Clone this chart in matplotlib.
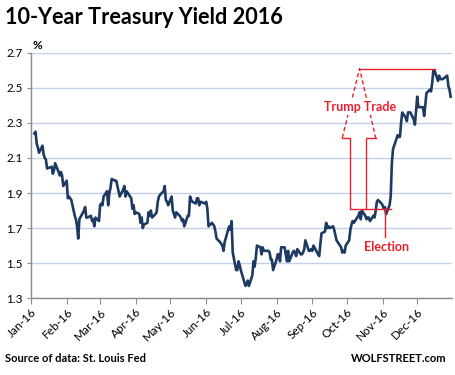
import pandas as pd
import matplotlib
matplotlib.use('Agg')
import matplotlib.pyplot as plt
import matplotlib.dates as mdates

# daily 10-year yields, 2016
jan = [2.24, 2.25, 2.18, 2.16, 2.13, 2.17, 2.12, 2.10, 2.09, 2.04, 2.05, 2.01, 2.03, 2.07,
       2.02, 2.00, 2.02, 2.00, 1.94]
feb = [1.97, 1.87, 1.88, 1.87, 1.86, 1.77, 1.75, 1.71, 1.64, 1.75, 1.80, 1.82, 1.76, 1.76,
       1.77, 1.74, 1.75, 1.71, 1.76, 1.74]
mar = [1.83, 1.84, 1.83, 1.88, 1.91, 1.83, 1.90, 1.93, 1.98, 1.97, 1.97, 1.94, 1.91, 1.88,
       1.92, 1.94, 1.88, 1.91, 1.87, 1.81, 1.83, 1.78]
apr = [1.79, 1.78, 1.73, 1.76, 1.70, 1.72, 1.73, 1.79, 1.77, 1.80, 1.76, 1.78, 1.79, 1.85,
       1.88, 1.89, 1.91, 1.94, 1.86, 1.85, 1.83]
may = [1.88, 1.80, 1.78, 1.76, 1.79, 1.77, 1.76, 1.74, 1.75, 1.71, 1.77, 1.77, 1.88, 1.86,
       1.85, 1.84, 1.87, 1.87, 1.83, 1.85, 1.84]
jun = [1.85, 1.81, 1.71, 1.73, 1.72, 1.71, 1.68, 1.64, 1.62, 1.61, 1.60, 1.57, 1.62, 1.69,
       1.71, 1.69, 1.74, 1.56, 1.46, 1.46, 1.51, 1.49]
jul = [1.46, 1.37, 1.38, 1.40, 1.37, 1.43, 1.51, 1.48, 1.53, 1.60, 1.59, 1.55, 1.59, 1.57,
       1.57, 1.57, 1.56, 1.52, 1.52, 1.46]
aug = [1.52, 1.55, 1.55, 1.51, 1.59, 1.59, 1.55, 1.51, 1.57, 1.51, 1.56, 1.57, 1.56, 1.54,
       1.58, 1.55, 1.55, 1.56, 1.58, 1.63, 1.57, 1.57, 1.58]
sep = [1.57, 1.60, 1.55, 1.54, 1.61, 1.67, 1.68, 1.73, 1.70, 1.71, 1.70, 1.71, 1.69, 1.66,
       1.63, 1.62, 1.59, 1.56, 1.57, 1.56, 1.60]
oct_ = [1.63, 1.69, 1.72, 1.74, 1.73, 1.77, 1.79, 1.75, 1.80, 1.77, 1.75, 1.76, 1.76, 1.74,
        1.77, 1.76, 1.80, 1.85, 1.86, 1.84]
nov = [1.83, 1.81, 1.82, 1.78, 1.83, 1.88, 2.07, 2.15, 2.23, 2.22, 2.22, 2.30, 2.36, 2.33,
       2.31, 2.36, 2.36, 2.32, 2.29, 2.37]
dec = [2.45, 2.39, 2.39, 2.39, 2.34, 2.40, 2.47, 2.49, 2.48, 2.53, 2.60, 2.60, 2.54, 2.57,
       2.55, 2.55, 2.55, 2.57, 2.51, 2.49, 2.45]

yields = jan + feb + mar + apr + may + jun + jul + aug + sep + oct_ + nov + dec
holidays = ['2016-01-18', '2016-02-15', '2016-03-25', '2016-05-30', '2016-07-04',
            '2016-09-05', '2016-10-10', '2016-11-11', '2016-11-24', '2016-12-26']
dates = pd.bdate_range('2016-01-04', '2016-12-30')
dates = dates[~dates.isin(pd.to_datetime(holidays))]

yticks = [1.3, 1.5, 1.7, 1.9, 2.1, 2.3, 2.5, 2.7]
month_ticks = pd.date_range('2016-01-01', '2016-12-01', freq='MS')

RED = '#e8202e'
NAVY = '#1d3a62'
FONT = 'Lato'

fig = plt.figure(figsize=(4.55, 3.75), dpi=100)
ax = fig.add_axes([0.068, 0.205, 0.925, 0.654])

ax.plot(dates, yields[:len(dates)], color=NAVY, lw=1.9, solid_joinstyle='round', zorder=3)

ax.set_ylim(1.3, 2.7)
ax.set_yticks(yticks)
ax.set_yticklabels([f'{v:.1f}' for v in yticks], fontsize=8.5, family=FONT)
ax.set_xlim(pd.Timestamp('2016-01-01'), pd.Timestamp('2016-12-31'))
ax.set_xticks(month_ticks)
ax.xaxis.set_major_formatter(mdates.DateFormatter('%b-%y'))
for lab in ax.get_xticklabels():
    lab.set_rotation(45)
    lab.set_ha('right')
    lab.set_va('top')
    lab.set_rotation_mode('anchor')
    lab.set_fontsize(8.5)
    lab.set_family(FONT)

ax.grid(axis='y', color='#c3d1e6', lw=1)
ax.set_axisbelow(True)
for s in ('top', 'right'):
    ax.spines[s].set_visible(False)
for s in ('left', 'bottom'):
    ax.spines[s].set_color('#8c8c8c')
    ax.spines[s].set_linewidth(1)
ax.tick_params(axis='x', length=4, color='#8c8c8c', pad=2)
ax.tick_params(axis='y', length=3, color='#8c8c8c', pad=3)

# Trump Trade arrow
d = pd.Timestamp
tip = d('2016-10-12')
hl, hr = d('2016-09-27'), d('2016-10-26')
sl, sr = d('2016-10-04'), d('2016-10-18')
ax.plot([tip, d('2016-12-16')], [2.61, 2.61], color=RED, lw=1, zorder=4)
ax.plot([hl, tip, hr], [2.215, 2.61, 2.215], color=RED, lw=1, ls=(0, (3, 2)), zorder=4)
ax.plot([hl, sl, sl, d('2016-11-08'), d('2016-11-08')], [2.215, 2.215, 1.81, 1.81, 1.81],
        color=RED, lw=1, zorder=4)
ax.plot([hr, sr, sr], [2.215, 2.215, 1.81], color=RED, lw=1, zorder=4)
ax.text(d('2016-10-12'), 2.39, 'Trump Trade', color=RED, fontsize=9, fontweight='bold',
        family=FONT, ha='center', va='center', zorder=5,
        bbox=dict(facecolor='white', edgecolor='none', pad=1))

# Election marker
ax.plot([d('2016-11-03'), d('2016-11-03')], [1.81, 1.65], color=RED, lw=1, zorder=4)
ax.text(d('2016-11-04'), 1.59, 'Election', color=RED, fontsize=9, fontweight='bold',
        family=FONT, ha='center', va='center')

fig.text(0.012, 0.953, '10-Year Treasury Yield 2016', fontsize=15.6, fontweight='bold',
         family=FONT, ha='left', va='center')
fig.text(0.072, 0.878, '%', fontsize=8.5, fontweight='bold', family=FONT, ha='left', va='center')
fig.text(0.012, 0.043, 'Source of data: St. Louis Fed', fontsize=8, fontweight='bold',
         family=FONT, ha='left', va='center')
fig.text(0.982, 0.043, 'WOLFSTREET.com', fontsize=8, fontweight='bold',
         family=FONT, ha='right', va='center')

fig.savefig('out.png', dpi=100)
